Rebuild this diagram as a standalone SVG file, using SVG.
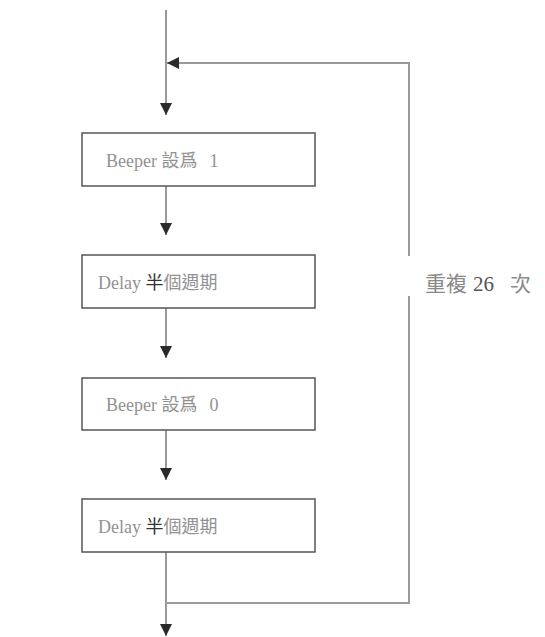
<svg xmlns="http://www.w3.org/2000/svg" width="545" height="637" viewBox="0 0 545 637">
<style>
.box{fill:#fff;stroke:#555;stroke-width:1.5}
.t{font-family:"Liberation Serif","Noto Sans CJK TC",serif;font-size:18px;fill:#929292}
.dk{fill:#333}
.ln{fill:none;stroke:#9a9a9a;stroke-width:2}
.lb{font-family:"Liberation Serif","Noto Sans CJK TC",serif;font-size:21px;fill:#8a8a8a}
</style>
<defs>
<marker id="ah" markerUnits="userSpaceOnUse" markerWidth="12" markerHeight="12" viewBox="0 0 12 12" refX="12" refY="6" orient="auto">
<path d="M0,0 L12,6 L0,12 Z" fill="#2a2a2a"/>
</marker>
</defs>
<rect width="545" height="637" fill="#fff"/>
<g id="connectors">
<line class="ln" x1="166" y1="10" x2="166" y2="115" marker-end="url(#ah)"/>
<polyline class="ln" points="166,552 166,603 409,603 409,63 167,63" marker-end="url(#ah)"/>
<line class="ln" x1="166" y1="603" x2="166" y2="636" marker-end="url(#ah)"/>
<line class="ln" x1="166" y1="186" x2="166" y2="235" marker-end="url(#ah)"/>
<line class="ln" x1="166" y1="308" x2="166" y2="358" marker-end="url(#ah)"/>
<line class="ln" x1="166" y1="430" x2="166" y2="480" marker-end="url(#ah)"/>
</g>
<g id="n1"><rect class="box" x="82" y="133" width="233" height="53"/><text class="t" x="106" y="167">Beeper 設爲<tspan dx="12">1</tspan></text></g>
<g id="n2"><rect class="box" x="82" y="255" width="233" height="53"/><text class="t" x="98" y="289">Delay <tspan class="dk">半</tspan>個週期</text></g>
<g id="n3"><rect class="box" x="82" y="378" width="233" height="52"/><text class="t" x="106" y="411">Beeper 設爲<tspan dx="12">0</tspan></text></g>
<g id="n4"><rect class="box" x="82" y="499" width="233" height="53"/><text class="t" x="98" y="533">Delay <tspan class="dk">半</tspan>個週期</text></g>
<g id="loop-label"><rect x="404" y="256" width="12" height="40" fill="#fff"/><text class="lb" y="291"><tspan x="425">重複</tspan><tspan x="473" fill="#555">26</tspan><tspan x="510">次</tspan></text></g>
</svg>
